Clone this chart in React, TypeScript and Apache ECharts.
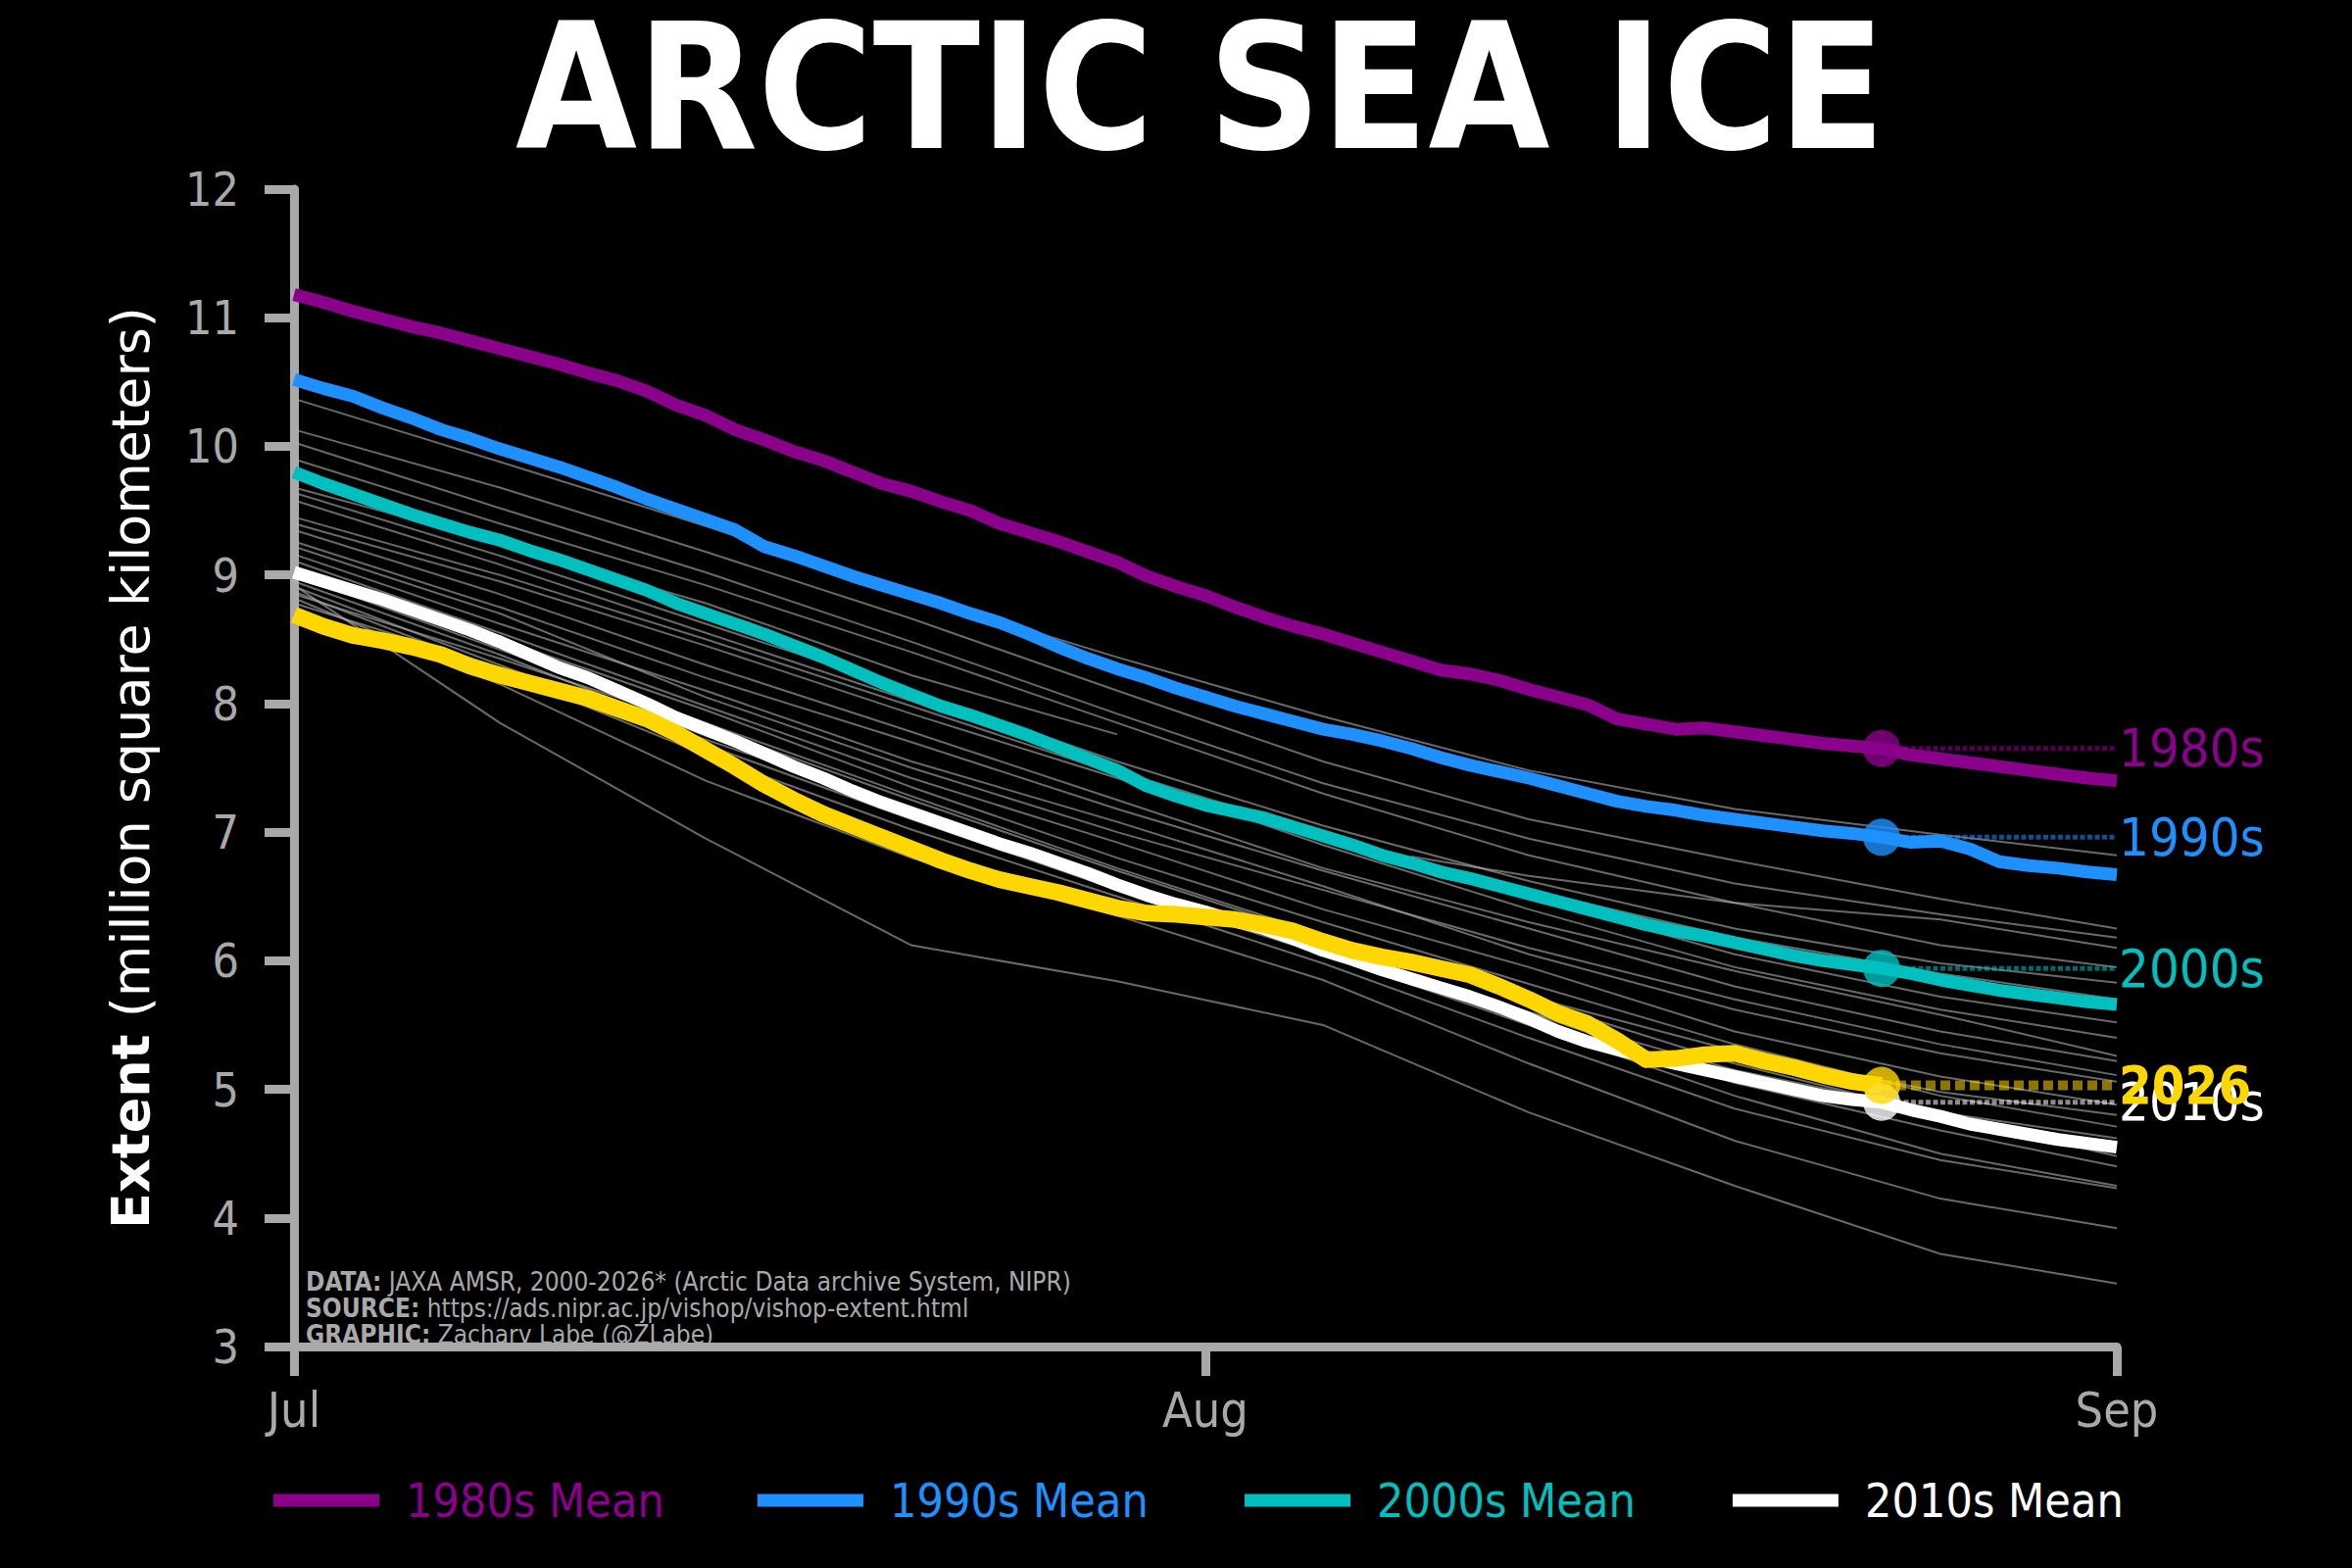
import React, { useEffect, useRef } from 'react';
import * as echarts from 'echarts';

// x axis: day index from Jul 1 (0) to Sep 1 (62)
const xTickDays = [0, 31, 62];
const xTickLabels = ['Jul', 'Aug', 'Sep'];

// decadal means, daily from Jul 1 to Sep 1 (million km²)
const mean1980s = [
  11.18, 11.12, 11.05, 10.99, 10.93, 10.88, 10.82, 10.76, 10.70, 10.64,
  10.57, 10.51, 10.43, 10.32, 10.24, 10.13, 10.05, 9.96, 9.89, 9.80,
  9.71, 9.65, 9.57, 9.50, 9.40, 9.33, 9.26, 9.18, 9.10, 8.99,
  8.91, 8.84, 8.75, 8.67, 8.60, 8.54, 8.47, 8.40, 8.33, 8.26,
  8.23, 8.18, 8.11, 8.05, 7.99, 7.88, 7.84, 7.80, 7.81, 7.78,
  7.75, 7.72, 7.69, 7.67, 7.65, 7.60, 7.57, 7.54, 7.51, 7.48,
  7.45, 7.42, 7.40,
];
const mean1990s = [
  10.52, 10.45, 10.39, 10.30, 10.22, 10.13, 10.06, 9.98, 9.91, 9.84,
  9.76, 9.68, 9.59, 9.51, 9.43, 9.35, 9.22, 9.15, 9.07, 8.99,
  8.92, 8.85, 8.78, 8.70, 8.63, 8.54, 8.44, 8.35, 8.27, 8.20,
  8.12, 8.05, 7.98, 7.92, 7.86, 7.80, 7.76, 7.71, 7.65, 7.58,
  7.52, 7.47, 7.42, 7.36, 7.30, 7.24, 7.20, 7.17, 7.13, 7.10,
  7.07, 7.04, 7.01, 6.99, 6.96, 6.92, 6.93, 6.87, 6.77, 6.74,
  6.72, 6.69, 6.67,
];
const mean2000s = [
  9.80, 9.71, 9.63, 9.55, 9.47, 9.40, 9.33, 9.27, 9.19, 9.12,
  9.04, 8.96, 8.88, 8.78, 8.70, 8.62, 8.54, 8.45, 8.36, 8.26,
  8.16, 8.07, 7.98, 7.91, 7.83, 7.75, 7.66, 7.57, 7.48, 7.36,
  7.28, 7.21, 7.16, 7.11, 7.04, 6.97, 6.90, 6.82, 6.76, 6.69,
  6.64, 6.58, 6.52, 6.46, 6.40, 6.34, 6.28, 6.23, 6.19, 6.14,
  6.09, 6.04, 6.00, 5.97, 5.94, 5.90, 5.85, 5.81, 5.77, 5.74,
  5.71, 5.68, 5.66,
];
const mean2010s = [
  9.02, 8.95, 8.88, 8.81, 8.73, 8.65, 8.57, 8.48, 8.38, 8.28,
  8.20, 8.10, 8.00, 7.89, 7.80, 7.71, 7.61, 7.51, 7.42, 7.32,
  7.23, 7.15, 7.07, 6.99, 6.91, 6.84, 6.76, 6.68, 6.59, 6.51,
  6.44, 6.38, 6.31, 6.25, 6.17, 6.08, 6.01, 5.93, 5.86, 5.79,
  5.72, 5.64, 5.55, 5.45, 5.37, 5.31, 5.25, 5.20, 5.15, 5.10,
  5.05, 5.00, 4.95, 4.92, 4.90, 4.84, 4.79, 4.73, 4.69, 4.65,
  4.61, 4.58, 4.55,
];
// current year, Jul 1 to Aug 24
const year2026 = [
  8.69, 8.60, 8.53, 8.49, 8.44, 8.38, 8.29, 8.22, 8.16, 8.10,
  8.04, 7.96, 7.88, 7.77, 7.64, 7.51, 7.37, 7.25, 7.14, 7.05,
  6.96, 6.87, 6.78, 6.70, 6.63, 6.58, 6.53, 6.47, 6.41, 6.37,
  6.36, 6.34, 6.32, 6.28, 6.23, 6.15, 6.08, 6.03, 5.99, 5.94,
  5.89, 5.80, 5.70, 5.59, 5.51, 5.38, 5.23, 5.24, 5.27, 5.28,
  5.22, 5.17, 5.11, 5.06, 5.03,
];

// individual years (thin gray), sampled weekly
const grayDays = [0, 7, 14, 21, 28, 35, 42, 49, 56, 62];
const grayYears = [
  [10.37, 9.88, 9.38, 8.85, 8.36, 7.90, 7.48, 7.18, 6.98, 6.82],
  [10.13, 9.68, 9.18, 8.66, 8.10, 7.55, 7.10, 6.78, 6.48, 6.25],
  [10.03, 9.52, 9.02, 8.48, 7.92, 7.38, 6.95, 6.60, 6.36, 6.18],
  [9.90, 9.40, 8.92, 8.40, 7.85, 7.30, 6.82, 6.45, 6.12, 5.95],
  [9.68, 9.25, 8.78, 8.22, 7.76, null, null, null, null, null],
  [9.64, 9.15, 8.62, 8.10, 7.55, 7.05, 6.62, 6.25, 5.98, 5.83],
  [9.58, 9.08, 8.55, 8.02, 7.48, 6.98, 6.55, 6.18, 5.90, 5.70],
  [9.45, 9.00, 8.50, 7.98, 7.45, 6.90, 6.40, 5.95, 5.62, 5.40],
  [9.40, 8.95, 8.45, 7.92, 7.42, 6.95, 6.50, 6.05, 5.72, 5.52],
  [9.35, 8.85, 8.30, 7.78, 7.25, 6.72, 6.30, 5.92, 5.58, 5.26],
  [9.26, 8.75, 8.20, 7.70, 7.18, 6.70, 6.25, 5.80, 5.45, 5.22],
  [9.22, 8.70, 8.05, 7.50, 7.00, 6.55, 6.10, 5.70, 5.35, 5.11],
  [9.16, 8.62, 8.10, 7.55, 7.08, 6.58, 6.05, 5.62, 5.28, 5.06],
  [9.11, 8.55, 7.98, 7.42, 6.92, 6.40, 5.95, 5.45, 5.10, 4.88],
  [9.05, 8.50, 7.95, 7.35, 6.80, 6.30, 5.82, 5.35, 4.95, 4.71],
  [9.00, 8.42, 7.85, 7.28, 6.72, 6.20, 5.70, 5.20, 4.80, 4.48],
  [8.95, 8.38, 7.75, 7.15, 6.60, 6.12, 5.60, 5.05, 4.68, 4.40],
  [8.91, 8.30, 7.68, 7.10, 6.55, 6.05, 5.50, 4.95, 4.50, 4.25],
  [8.87, 8.25, 7.60, 7.02, 6.50, 5.98, 5.40, 4.85, 4.45, 4.23],
  [8.85, 8.35, 7.82, 7.25, 6.70, 6.18, 5.72, 5.30, 4.98, 4.80],
  [8.82, 8.15, 7.40, 6.80, 6.35, 5.85, 5.20, 4.60, 4.15, 3.92],
  [8.78, 8.28, 7.72, 7.18, 6.62, 6.08, 5.60, 5.15, 4.82, 4.62],
  [8.92, 7.85, 6.95, 6.12, 5.84, 5.50, 4.82, 4.25, 3.72, 3.49],
];
// a record that resumes mid-August
const grayLateDays = [38, 42, 49, 56, 62];
const grayLateValues = [6.81, 6.66, 6.45, 6.32, 6.10];

const meanNames = ['1980s Mean', '1990s Mean', '2000s Mean', '2010s Mean'];
const endNames = ['1980s', '1990s', '2000s', '2010s'];
const meanColors = ['#8B008B', '#1E90FF', '#00BFBF', '#FFFFFF'];
const dotColors = [
  'rgba(139,0,139,0.6)',
  'rgba(30,144,255,0.55)',
  'rgba(0,191,191,0.55)',
  'rgba(255,255,255,0.55)',
];
const yearColor = '#FFD700';
const yearDotColor = 'rgba(255,215,0,0.55)';
const legendLefts = [279, 773, 1270, 1768];

const GRAY = '#a9a9a9';
const COND = '"DejaVu Sans Condensed", "Liberation Sans Narrow", sans-serif';

const App = () => {
  const chartRef = useRef(null);

  useEffect(() => {
    document.body.style.margin = '0';
    document.body.style.background = '#000';
    const chartDom = chartRef.current;
    if (!chartDom) return;

    const myChart = echarts.init(chartDom, null, { renderer: 'svg' });

    const means = [mean1980s, mean1990s, mean2000s, mean2010s];
    const lastDay = year2026.length - 1;
    const endDay = xTickDays[xTickDays.length - 1];

    const series: any[] = [];

    grayYears.forEach((vals, i) => {
      series.push({
        name: 'year' + i,
        type: 'line',
        data: grayDays.map((d, j) => [d, vals[j]]),
        showSymbol: false,
        silent: true,
        z: 1,
        lineStyle: { width: 2, color: 'rgba(175,175,175,0.6)' },
      });
    });
    series.push({
      name: 'yearLate',
      type: 'line',
      data: grayLateDays.map((d, j) => [d, grayLateValues[j]]),
      showSymbol: false,
      silent: true,
      z: 1,
      lineStyle: { width: 2, color: 'rgba(175,175,175,0.6)' },
    });

    // dotted guides from the latest day to the right edge, with end labels
    const addGuide = (name, value, color, labelColor, width, bold) => {
      series.push({
        name,
        type: 'line',
        data: [[lastDay, value], [endDay, value]],
        showSymbol: false,
        silent: true,
        z: 2,
        lineStyle: { width, color, type: [width, width * 0.5] },
        endLabel: {
          show: true,
          formatter: name,
          color: labelColor,
          fontSize: 54,
          fontFamily: COND,
          fontWeight: bold ? 'bold' : 'normal',
          distance: 2,
        },
      });
    };
    means.forEach((vals, i) => {
      addGuide(endNames[i], vals[lastDay], dotColors[i], meanColors[i], 5, false);
    });
    addGuide('2026', year2026[lastDay], yearDotColor, yearColor, 10, true);

    means.forEach((vals, i) => {
      series.push({
        name: meanNames[i],
        type: 'line',
        data: vals.map((v, d) => [d, v]),
        showSymbol: false,
        silent: true,
        z: 3,
        color: meanColors[i],
        lineStyle: { width: 13, color: meanColors[i], join: 'round' },
      });
    });
    series.push({
      name: '2026',
      type: 'line',
      data: year2026.map((v, d) => [d, v]),
      showSymbol: false,
      silent: true,
      z: 4,
      color: yearColor,
      lineStyle: { width: 17, color: yearColor, join: 'round' },
    });

    series.push({
      name: 'latest',
      type: 'scatter',
      symbolSize: 38,
      silent: true,
      z: 5,
      data: [
        ...means.map((vals, i) => ({ value: [lastDay, vals[lastDay]], itemStyle: { color: meanColors[i] } })),
        { value: [lastDay, year2026[lastDay]], itemStyle: { color: yearColor } },
      ],
    });

    const option = {
      animation: false,
      backgroundColor: '#000',
      title: {
        text: 'ARCTIC SEA ICE',
        left: 526,
        top: 0,
        padding: 0,
        textStyle: { color: '#fff', fontSize: 178, fontWeight: 'bold', fontFamily: COND },
      },
      grid: { left: 300, right: 240, top: 193, bottom: 226, containLabel: false },
      legend: meanNames.map((name, i) => ({
        data: [{ name, textStyle: { color: meanColors[i] } }],
        left: legendLefts[i],
        top: 1507,
        padding: 0,
        icon: 'rect',
        itemWidth: 108,
        itemHeight: 13,
        selectedMode: false,
        textStyle: { fontSize: 48, fontFamily: COND, padding: [0, 0, 0, 22] },
      })),
      xAxis: {
        type: 'value',
        min: 0,
        max: 62,
        interval: 31,
        splitLine: { show: false },
        axisLine: { lineStyle: { color: GRAY, width: 9 } },
        axisTick: { length: 30, lineStyle: { color: GRAY, width: 9 } },
        axisLabel: {
          color: GRAY,
          fontSize: 50,
          fontFamily: COND,
          margin: 40,
          formatter: (v) => xTickLabels[xTickDays.indexOf(v)] ?? '',
        },
      },
      yAxis: {
        type: 'value',
        min: 3,
        max: 12,
        interval: 1,
        splitLine: { show: false },
        axisLine: { show: true, lineStyle: { color: GRAY, width: 9 } },
        axisTick: { show: true, length: 30, lineStyle: { color: GRAY, width: 9 } },
        axisLabel: { color: GRAY, fontSize: 48, fontFamily: COND, margin: 56 },
        name: '{b|Extent}{n| (million square kilometers)}',
        nameLocation: 'middle',
        nameGap: 140,
        nameTextStyle: {
          rich: {
            b: { color: '#fff', fontSize: 54, fontWeight: 'bold', fontFamily: 'DejaVu Sans' },
            n: { color: '#fff', fontSize: 54, fontFamily: 'DejaVu Sans' },
          },
        },
      },
      graphic: [
        {
          type: 'text',
          left: 312,
          top: 1294,
          z: 10,
          style: {
            text: '{b|DATA:} JAXA AMSR, 2000-2026* (Arctic Data archive System, NIPR)\n{b|SOURCE:} https://ads.nipr.ac.jp/vishop/vishop-extent.html\n{b|GRAPHIC:} Zachary Labe (@ZLabe)',
            fill: GRAY,
            fontSize: 26,
            fontFamily: COND,
            lineHeight: 27,
            rich: {
              b: { fill: GRAY, fontSize: 26, fontWeight: 'bold', fontFamily: COND, lineHeight: 27 },
            },
          },
        },
      ],
      series,
    };

    myChart.setOption(option);

    return () => {
      myChart.dispose();
    };
  }, []);

  return <div ref={chartRef} style={{ width: '2400px', height: '1600px', background: '#000' }}></div>;
};

export default App;
